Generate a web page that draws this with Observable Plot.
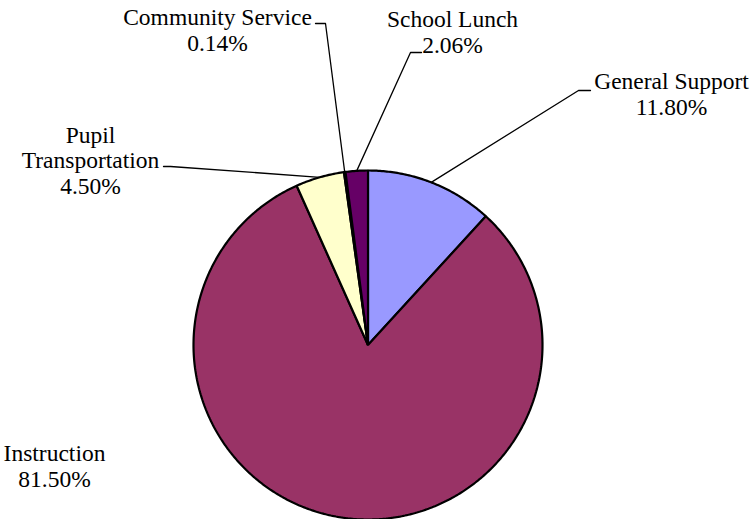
<!DOCTYPE html>
<html><head><meta charset="utf-8">
<script src="https://cdn.jsdelivr.net/npm/d3@7"></script>
<script src="https://cdn.jsdelivr.net/npm/@observablehq/plot@0.6"></script>
<style>body{margin:0;background:#fff}</style>
</head><body><div id="chart"></div>
<script>
// ---- data ----
const categories = ["General Support", "Instruction", "Pupil Transportation", "Community Service", "School Lunch"];
const labelLines = [["General Support"], ["Instruction"], ["Pupil", "Transportation"], ["Community Service"], ["School Lunch"]];
const shares = [11.80, 81.50, 4.50, 0.14, 2.06];
const colors = ["#9999FF", "#993366", "#FFFFCC", "#CCFFFF", "#660066"];

// ---- layout (pixels) ----
const W = 751, H = 519;
const pie = {cx: 367.5, cy: 344.5, r: 174.5};
// label anchor = baseline of last line
const labelPos = [
  {x: 671, y: 114},
  {x: 54, y: 486},
  {x: 90, y: 193},
  {x: 217, y: 50},
  {x: 452, y: 52}
];
// leader start (near label) and elbow; null = no leader
const leaderPts = [
  [[590, 90], [578, 90]],
  null,
  [[163, 166], [170, 166]],
  [[315, 23], [325, 23]],
  [[421, 52], [410, 52]]
];

const arcs = d3.pie().sort(null).value(d => d)(shares);
const pt = a => [pie.cx + pie.r * Math.sin(a), pie.cy - pie.r * Math.cos(a)];

const slicePts = [];
arcs.forEach((a, i) => {
  const name = categories[i];
  slicePts.push({name, x: pie.cx, y: pie.cy});
  const n = Math.max(2, Math.ceil((a.endAngle - a.startAngle) / 0.01));
  for (let k = 0; k <= n; k++) {
    const t = a.startAngle + (a.endAngle - a.startAngle) * k / n;
    const [x, y] = pt(t);
    slicePts.push({name, x, y});
  }
});

const leaderData = [];
arcs.forEach((a, i) => {
  if (!leaderPts[i]) return;
  const mid = pt((a.startAngle + a.endAngle) / 2);
  [...leaderPts[i], mid].forEach(([x, y]) => leaderData.push({name: categories[i], x, y}));
});

const labels = categories.map((c, i) => ({
  name: c,
  text: [...labelLines[i], shares[i].toFixed(2) + "%"].join("\n"),
  x: labelPos[i].x, y: labelPos[i].y
}));

const chart = Plot.plot({
  width: W, height: H, margin: 0,
  x: {domain: [0, W], range: [0, W], axis: null},
  y: {domain: [0, H], range: [0, H], axis: null},
  color: {domain: categories, range: colors},
  style: {background: "#fff", overflow: "visible"},
  marks: [
    Plot.line(leaderData, {x: "x", y: "y", z: "name", stroke: "#000", strokeWidth: 1.3, curve: "linear"}),
    Plot.line(slicePts, {x: "x", y: "y", z: "name", fill: "name", stroke: "#000", strokeWidth: 2.2, curve: "linear-closed", strokeLinejoin: "miter"}),
    Plot.text(labels, {x: "x", y: "y", text: "text", lineAnchor: "bottom", textAnchor: "middle",
      fontSize: 23.5, lineHeight: 1.07, fontFamily: "Liberation Serif", fill: "#000"})
  ]
});
document.getElementById("chart").appendChild(chart);
</script>
</body></html>
